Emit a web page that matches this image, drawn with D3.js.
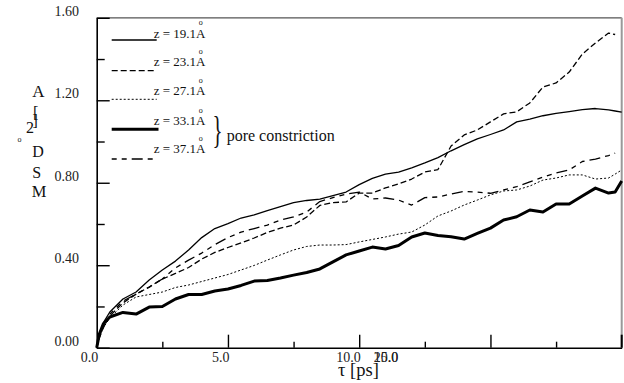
<!DOCTYPE html>
<html>
<head>
<meta charset="utf-8">
<script src="https://cdn.jsdelivr.net/npm/d3@7/dist/d3.min.js"></script>
<style>
  html, body { margin: 0; padding: 0; background: #fff; }
  svg, svg text { font-family: "Liberation Serif", "Times New Roman", Times, serif; }
</style>
</head>
<body>
<svg id="chart" width="624" height="383"></svg>
<script>
// ---- data ----
const times = [0, 0.1, 0.25, 0.5, 1.0, 1.5, 2.0, 2.5, 3.0, 3.5, 4.0, 4.5, 5.0, 5.5, 6.0, 6.5, 7.0, 7.5, 8.0, 8.5, 9.0, 9.5, 10.0, 10.5, 11.0, 11.5, 12.0, 12.5, 13.0, 13.5, 14.0, 14.5, 15.0, 15.5, 16.0, 16.5, 17.0, 17.5, 18.0, 18.5, 19.0, 19.5, 19.75, 20.0];

const msd_z19 = [0, 0.057, 0.120, 0.173, 0.236, 0.270, 0.328, 0.377, 0.420, 0.474, 0.534, 0.578, 0.602, 0.629, 0.644, 0.665, 0.684, 0.704, 0.714, 0.721, 0.738, 0.755, 0.791, 0.821, 0.842, 0.852, 0.872, 0.896, 0.922, 0.955, 0.985, 1.013, 1.034, 1.056, 1.095, 1.109, 1.125, 1.136, 1.145, 1.155, 1.160, 1.153, 1.148, 1.143];
const msd_z23 = [0, 0.047, 0.096, 0.154, 0.217, 0.260, 0.294, 0.333, 0.360, 0.389, 0.430, 0.462, 0.486, 0.508, 0.532, 0.559, 0.580, 0.595, 0.634, 0.690, 0.704, 0.707, 0.750, 0.750, 0.775, 0.794, 0.818, 0.852, 0.864, 0.978, 1.032, 1.056, 1.095, 1.134, 1.144, 1.187, 1.264, 1.284, 1.337, 1.424, 1.478, 1.526, 1.519, null];
const msd_z27 = [0, 0.047, 0.096, 0.144, 0.207, 0.246, 0.258, 0.270, 0.292, 0.304, 0.321, 0.338, 0.355, 0.377, 0.399, 0.425, 0.450, 0.474, 0.491, 0.498, 0.498, 0.500, 0.513, 0.525, 0.537, 0.551, 0.561, 0.595, 0.639, 0.663, 0.692, 0.716, 0.741, 0.760, 0.765, 0.784, 0.813, 0.823, 0.838, 0.838, 0.818, 0.823, 0.842, 0.862];
const msd_z33 = [0, 0.066, 0.115, 0.149, 0.171, 0.163, 0.197, 0.200, 0.236, 0.258, 0.258, 0.275, 0.285, 0.302, 0.323, 0.326, 0.338, 0.352, 0.365, 0.382, 0.416, 0.450, 0.469, 0.488, 0.479, 0.496, 0.537, 0.556, 0.544, 0.538, 0.527, 0.554, 0.580, 0.619, 0.635, 0.668, 0.658, 0.697, 0.697, 0.736, 0.774, 0.750, 0.755, 0.808];
const msd_z37 = [0, 0.052, 0.105, 0.163, 0.226, 0.260, 0.294, 0.333, 0.387, 0.425, 0.459, 0.500, 0.534, 0.561, 0.578, 0.595, 0.619, 0.634, 0.658, 0.709, 0.728, 0.745, 0.755, 0.721, 0.726, 0.716, 0.692, 0.728, 0.731, 0.745, 0.758, 0.755, 0.749, 0.765, 0.781, 0.804, 0.828, 0.847, 0.862, 0.903, 0.915, 0.932, 0.944, null];

const seriesNames = ["z = 19.1A", "z = 23.1A", "z = 27.1A", "z = 33.1A", "z = 37.1A"];
const seriesValues = [msd_z19, msd_z23, msd_z27, msd_z33, msd_z37];

const yTickLabels = [0, 0.4, 0.8, 1.2, 1.6];
const yMinorTicks = [0.2, 0.6, 1.0, 1.4];
const xTickLabels = [0, 5, 10];
const xStackedLabels = [15, 20];   // drawn on top of each other, as in the reference
const xMajorTicks = [5, 10, 15];
const xMinorTicks = [2.5, 7.5, 12.5, 17.5];

// ---- styles ----
const FONT = "Liberation Serif, Times New Roman, Times, serif";
const styles = [
  { w: 1.3, dash: null },
  { w: 1.3, dash: "6,3" },
  { w: 1.0, dash: "2,2" },
  { w: 3.0, dash: null },
  { w: 1.3, dash: "5,5,5,5,11,5" }
];

const svg = d3.select("#chart");
const pLeft = 96.7, pRight = 621.7, pTop = 17.8, pBottom = 347.7;
const x = d3.scaleLinear().domain([0, 20]).range([pLeft, pRight]);
const y = d3.scaleLinear().domain([0, 1.6]).range([pBottom, pTop]);

// frame (top and right, grey)
svg.append("line").attr("x1", pLeft).attr("x2", pRight).attr("y1", pTop).attr("y2", pTop)
  .attr("stroke", "#555").attr("stroke-width", 1.2);
svg.append("line").attr("x1", pRight).attr("x2", pRight).attr("y1", pTop).attr("y2", pBottom)
  .attr("stroke", "#999").attr("stroke-width", 2);

// y axis major
const yAxis = svg.append("g").attr("transform", `translate(${pLeft},0)`)
  .call(d3.axisLeft(y).tickValues(yTickLabels).tickSize(-13).tickSizeOuter(0)
        .tickPadding(17.7).tickFormat(d3.format(".2f")));
yAxis.attr("font-family", FONT).attr("font-size", 14);
yAxis.select(".domain").attr("stroke", "#000").attr("stroke-width", 1.6);
yAxis.selectAll(".tick line").attr("stroke", "#000").attr("stroke-width", 1.4);
yAxis.selectAll(".tick text").attr("dy", "-2.5px").attr("fill", "#222");
// y axis minor
const yMinor = svg.append("g").attr("transform", `translate(${pLeft},0)`)
  .call(d3.axisLeft(y).tickValues(yMinorTicks).tickSize(-8).tickSizeOuter(0).tickFormat(""));
yMinor.select(".domain").remove();
yMinor.selectAll(".tick line").attr("stroke", "#000").attr("stroke-width", 1.4);

// x axis
const xAxis = svg.append("g").attr("transform", `translate(0,${pBottom})`)
  .call(d3.axisBottom(x).tickValues(xMajorTicks).tickSize(-13).tickSizeOuter(0).tickFormat(""));
xAxis.select(".domain").attr("stroke", "#000").attr("stroke-width", 1.6);
xAxis.selectAll(".tick line").attr("stroke", "#000").attr("stroke-width", 1.4);
const xMinor = svg.append("g").attr("transform", `translate(0,${pBottom})`)
  .call(d3.axisBottom(x).tickValues(xMinorTicks).tickSize(-6).tickSizeOuter(0).tickFormat(""));
xMinor.select(".domain").remove();
xMinor.selectAll(".tick line").attr("stroke", "#000").attr("stroke-width", 1.4);
// end tick on the right border
svg.append("line").attr("x1", x(20)).attr("x2", x(20)).attr("y1", pBottom).attr("y2", pBottom - 13)
  .attr("stroke", "#000").attr("stroke-width", 2);

// x tick labels
const fmt1 = d3.format(".1f");
svg.append("g").selectAll("text").data(xTickLabels).join("text")
  .attr("x", d => x(d) + 1.5)
  .attr("y", 361.5)
  .attr("text-anchor", "end")
  .attr("font-family", FONT).attr("font-size", 14).attr("fill", "#222")
  .text(d => fmt1(d));
// 15.0 and 20.0 printed over each other just right of 10.0
const stacked = svg.append("text").attr("y", 361.5).attr("text-anchor", "end")
  .attr("font-family", FONT).attr("font-size", 14).attr("fill", "#222");
stacked.selectAll("tspan").data(xStackedLabels).join("tspan")
  .attr("x", x(10) + 39).text(d => fmt1(d));

// x title
svg.append("text").attr("x", 338).attr("y", 376)
  .attr("font-family", FONT).attr("font-size", 18.5).attr("fill", "#111")
  .text("τ [ps]");

// y title, letters stacked as in the reference
const yTitle = [
  { t: "A", x: 32.3, y: 96.7, s: 17 },
  { t: "2", x: 26, y: 133.3, s: 16 },
  { t: "o", x: 17.5, y: 142, s: 8 },
  { t: "D", x: 32.3, y: 157.3, s: 16 },
  { t: "S", x: 32.3, y: 178.3, s: 16 },
  { t: "M", x: 31.8, y: 197, s: 16.5 }
];
svg.append("g").selectAll("text").data(yTitle).join("text")
  .attr("x", d => d.x).attr("y", d => d.y).attr("font-size", d => d.s)
  .attr("font-family", FONT).attr("fill", "#111")
  .text(d => d.t);
// brackets drawn as one text, "]" shifted under "["
const br = svg.append("text").attr("font-family", FONT).attr("font-size", 16).attr("fill", "#111");
br.append("tspan").attr("x", 33).attr("y", 118).text("[");
br.append("tspan").attr("x", 32.5).attr("y", 125.5).text("]");

// curves
const line = d3.line()
  .defined(d => d[1] !== null)
  .x(d => x(d[0])).y(d => y(d[1]));
seriesValues.forEach((vals, i) => {
  const pts = times.map((t, k) => [t, vals[k]]);
  svg.append("path").datum(pts)
    .attr("d", line)
    .attr("fill", "none")
    .attr("stroke", "#000")
    .attr("stroke-width", styles[i].w)
    .attr("stroke-linejoin", "round")
    .attr("stroke-dasharray", styles[i].dash);
});

// legend
const legLineY = [40, 70.7, 99.3, 129.3, 159];
const legTextY = [37.6, 66, 95, 125, 153.3];
seriesNames.forEach((name, i) => {
  svg.append("line")
    .attr("x1", 111.7).attr("x2", i === 3 ? 158.5 : 156.7)
    .attr("y1", legLineY[i]).attr("y2", legLineY[i])
    .attr("stroke", "#000").attr("stroke-width", styles[i].w)
    .attr("stroke-dasharray", styles[i].dash);
  svg.append("text").attr("x", 205.5).attr("y", legTextY[i])
    .attr("text-anchor", "end").attr("font-family", FONT).attr("font-size", 13).attr("fill", "#111")
    .text(name);
  svg.append("text").attr("x", 200.8).attr("y", legTextY[i] - 12.5)
    .attr("text-anchor", "middle").attr("font-family", FONT).attr("font-size", 8).attr("fill", "#111")
    .text("o");
});

// brace + annotation
svg.append("text").attr("transform", "translate(212.5,143) scale(0.55,1)")
  .attr("font-family", FONT).attr("font-size", 38).attr("fill", "#111").text("}");
svg.append("text").attr("x", 226.7).attr("y", 140.5)
  .attr("font-family", FONT).attr("font-size", 16).attr("fill", "#111")
  .text("pore constriction");
</script>
</body>
</html>
